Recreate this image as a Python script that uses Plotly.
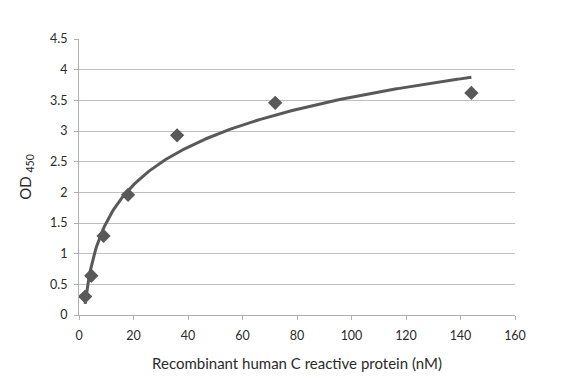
import numpy as np
import plotly.graph_objects as go

conc = [2.25, 4.5, 9, 18, 36, 72, 144]
od450 = [0.30, 0.64, 1.29, 1.96, 2.93, 3.46, 3.62]
x_ticks = [0, 20, 40, 60, 80, 100, 120, 140, 160]
y_ticks = [0, 0.5, 1, 1.5, 2, 2.5, 3, 3.5, 4, 4.5]

# Logarithmic trendline (least squares on ln(x)), as in the original spreadsheet chart
a, b = np.polyfit(np.log(conc), od450, 1)
xf = np.linspace(min(conc), max(conc), 300)
yf = a * np.log(xf) + b

col = "#595959"
fig = go.Figure()
fig.add_trace(go.Scatter(x=xf, y=yf, mode="lines", line=dict(color=col, width=3), hoverinfo="skip"))
fig.add_trace(go.Scatter(x=conc, y=od450, mode="markers",
                         marker=dict(symbol="diamond", size=11, color=col)))

font = dict(family="Lato, Open Sans, sans-serif", size=12.5, color="#2b2b2b")
fig.update_layout(
    width=582, height=382, showlegend=False,
    margin=dict(l=71, r=75, t=31, b=75),
    paper_bgcolor="white", plot_bgcolor="white", font=font,
    xaxis=dict(range=[0, 160], tickvals=x_ticks, showgrid=False, zeroline=False,
               showline=True, linecolor="#b0b0b0", linewidth=1,
               ticks="outside", ticklen=4, tickcolor="#b0b0b0", ticklabelstandoff=5,
               title=dict(text="Recombinant human C reactive protein (nM)", standoff=16)),
    yaxis=dict(range=[0, 4.5], tickvals=y_ticks, showgrid=True, gridcolor="#c0c0c0",
               zeroline=False, showline=True, linecolor="#b0b0b0", linewidth=1,
               ticks="outside", ticklen=4, tickcolor="#b0b0b0", ticklabelstandoff=4,
               title=dict(text="OD <sub>450</sub>", standoff=14)),
)
fig.write_html("out.html")
